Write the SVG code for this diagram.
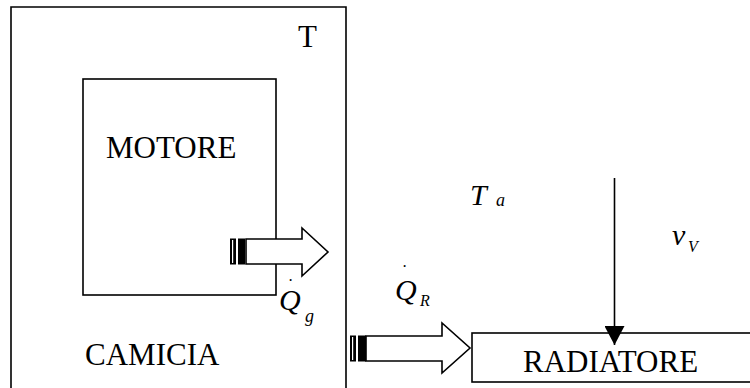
<svg xmlns="http://www.w3.org/2000/svg" width="750" height="388" viewBox="0 0 750 388">
<defs>
<style>
.box{fill:none;stroke:#000;stroke-width:1.6}
.arr{fill:#fff;stroke:#000;stroke-width:1.6;stroke-linejoin:miter}
.stripe{fill:#000;stroke:#000;stroke-width:1}
.lbl{font-family:"Liberation Serif","Times New Roman",serif;font-size:31px;fill:#000}
.math{font-family:"Liberation Serif","Times New Roman",serif;font-style:italic;fill:#000}
</style>
<marker id="ah" markerWidth="19" markerHeight="20" refX="19" refY="10" orient="auto" markerUnits="userSpaceOnUse" viewBox="0 0 19 20">
<path d="M0,0 L19,10 L0,20 Z" fill="#000"/>
</marker>
</defs>
<rect width="750" height="388" fill="#fff"/>
<g id="camicia">
<path class="box" d="M11,395 L11,7 L346,7 L346,395"/>
<text class="lbl" x="298" y="47">T</text>
<text class="lbl" x="85" y="365">CAMICIA</text>
</g>
<g id="motore">
<rect class="box" x="83" y="79" width="193" height="216"/>
<text class="lbl" x="106" y="158">MOTORE</text>
</g>
<g id="radiatore">
<rect class="box" x="472" y="333" width="300" height="49"/>
<text class="lbl" x="523" y="372">RADIATORE</text>
</g>
<g id="labels">
<text class="math" x="470" y="205" font-size="30">T</text>
<text class="math" x="496" y="206" font-size="18">a</text>
<text class="math" x="672" y="245" font-size="30">v</text>
<text class="math" x="688" y="252" font-size="16">V</text>
<text class="math" x="279" y="310" font-size="30">Q</text>
<text class="math" x="289" y="281" font-size="16">.</text>
<text class="math" x="305" y="322" font-size="18">g</text>
<text class="math" x="395" y="300" font-size="30">Q</text>
<text class="math" x="403" y="267" font-size="16">.</text>
<text class="math" x="420" y="306" font-size="16">R</text>
</g>
<g id="connectors">
<path class="arr" d="M246,239 L302,239 L302,228 L328,252 L302,276 L302,264 L246,264 Z"/>
<rect class="stripe" x="230.5" y="239" width="5" height="25"/>
<rect x="232" y="240" width="1.2" height="23" fill="#fff"/>
<rect class="stripe" x="238.5" y="239" width="6" height="25"/>
<path class="arr" d="M366,336 L442,336 L442,323 L470,348 L442,373 L442,361 L366,361 Z"/>
<rect class="stripe" x="350.5" y="336" width="5" height="25"/>
<rect x="352" y="337" width="1.2" height="23" fill="#fff"/>
<rect class="stripe" x="358.5" y="336" width="7" height="25"/>
<line x1="614.5" y1="178" x2="614.5" y2="345" stroke="#000" stroke-width="1.6" marker-end="url(#ah)"/>
</g>
</svg>
